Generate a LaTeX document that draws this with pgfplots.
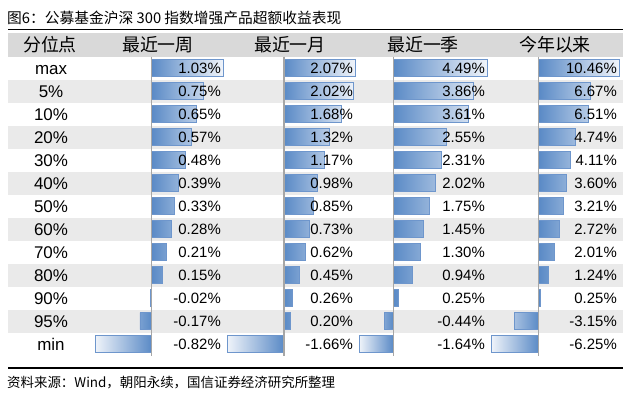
\documentclass[border=0pt]{standalone}
\usepackage{pgfplots}
\pgfplotsset{compat=1.18}
\usepackage{pgfplotstable}
\usepackage{fontspec}
\setmainfont{Liberation Sans}
\newfontfamily\cjk{Noto Sans CJK SC}

\definecolor{bardark}{HTML}{5A8AC6}
\definecolor{barlight}{HTML}{F0F4FA}
\definecolor{barline}{HTML}{6E96CC}
\definecolor{hdr}{HTML}{D9D9D9}
\definecolor{band}{HTML}{EAEAEA}
\definecolor{zline}{HTML}{A6A6A6}

\pgfplotstableread{
r w m q y
0 1.03 2.07 4.49 10.46
1 0.75 2.02 3.86 6.67
2 0.65 1.68 3.61 6.51
3 0.57 1.32 2.55 4.74
4 0.48 1.17 2.31 4.11
5 0.39 0.98 2.02 3.60
6 0.33 0.85 1.75 3.21
7 0.28 0.73 1.45 2.72
8 0.21 0.62 1.30 2.01
9 0.15 0.45 0.94 1.24
10 -0.02 0.26 0.25 0.25
11 -0.17 0.20 -0.44 -3.15
12 -0.82 -1.66 -1.64 -6.25
}\data

\pgfplotsset{
  cell/.style={width=128bp, height=299bp, scale only axis, hide axis,
    y dir=reverse, ymin=-0.5, ymax=12.5, clip=false, anchor=north west},
  pos/.style={xbar, bar width=17bp, bar shift=0pt, draw=barline, line width=0.8bp,
    left color=bardark, right color=barlight, restrict x to domain=0:1000},
  neg/.style={xbar, bar width=17bp, bar shift=0pt, draw=barline, line width=0.8bp,
    left color=barlight, right color=bardark, restrict x to domain=-1000:0},
  lab/.style={only marks, mark=none, point meta=explicit,
    nodes near coords={\pgfmathprintnumber[fixed,fixed zerofill,precision=2,assume math mode=true]{\pgfplotspointmeta}\%},
    every node near coord/.append style={anchor=east, xshift=-2bp, inner sep=0pt,
      font=\fontsize{15}{17}\selectfont, text=black}},
}

\begin{document}
\begin{tikzpicture}
\path[use as bounding box] (0,0) rectangle (633bp,-403bp);
\begin{scope}[x=1bp,y=-1bp]
  \fill[white] (0,0) rectangle (633,403);
  % header background
  \fill[hdr] (8,33) rectangle (623,56.5);
  % row bands
  \foreach \i in {1,3,5,7,9,11} {
    \fill[band] (8,{56.5+23*\i}) rectangle (623,{56.5+23*(\i+1)});
  }
  % rules
  \draw[black, line width=1.3bp] (8,29.5) -- (623,29.5);
  \draw[black, line width=1.3bp] (8,368) -- (623,368);
  % title and source
  \node[anchor=west, inner sep=0pt, font=\cjk\fontsize{14.8}{17}\selectfont] at (7,17.5) {图6：公募基金沪深 300 指数增强产品超额收益表现};
  \node[anchor=west, inner sep=0pt, font=\cjk\fontsize{13.5}{15}\selectfont] at (7,383) {资料来源：Wind，朝阳永续，国信证券经济研究所整理};
  % header
  \begin{scope}[every node/.style={inner sep=0pt, font=\cjk\fontsize{18}{20}\selectfont}]
    \node at (50,45) {分位点};
    \node at (158,45) {最近一周};
    \node at (290,45) {最近一月};
    \node at (423,45) {最近一季};
    \node at (555,45) {今年以来};
  \end{scope}
  % row labels
  \begin{scope}[every node/.style={inner sep=0pt, anchor=base, font=\fontsize{17}{19}\selectfont}]
    \foreach \t [count=\k from 0] in {max,5\%,10\%,20\%,30\%,40\%,50\%,60\%,70\%,80\%,90\%,95\%,min} {
      \node at (51,{74.5+23*\k}) {\t};
    }
  \end{scope}
\end{scope}

% column 1
\begin{axis}[cell, at={(95bp,-56.5bp)}, xmin=-0.82, xmax=1.03]
  \addplot[pos] table[x=w, y=r] {\data};
  \addplot[neg] table[x=w, y=r] {\data};
  \draw[zline, line width=1.2bp] (axis cs:0,-0.5) -- (axis cs:0,12.5);
  \addplot[lab] table[x expr=1.03, y=r, meta=w] {\data};
\end{axis}
% column 2
\begin{axis}[cell, at={(227bp,-56.5bp)}, xmin=-1.66, xmax=2.07]
  \addplot[pos] table[x=m, y=r] {\data};
  \addplot[neg] table[x=m, y=r] {\data};
  \draw[zline, line width=1.2bp] (axis cs:0,-0.5) -- (axis cs:0,12.5);
  \addplot[lab] table[x expr=2.07, y=r, meta=m] {\data};
\end{axis}
% column 3
\begin{axis}[cell, at={(359bp,-56.5bp)}, xmin=-1.64, xmax=4.49]
  \addplot[pos] table[x=q, y=r] {\data};
  \addplot[neg] table[x=q, y=r] {\data};
  \draw[zline, line width=1.2bp] (axis cs:0,-0.5) -- (axis cs:0,12.5);
  \addplot[lab] table[x expr=4.49, y=r, meta=q] {\data};
\end{axis}
% column 4
\begin{axis}[cell, at={(491bp,-56.5bp)}, xmin=-6.25, xmax=10.46]
  \addplot[pos] table[x=y, y=r] {\data};
  \addplot[neg] table[x=y, y=r] {\data};
  \draw[zline, line width=1.2bp] (axis cs:0,-0.5) -- (axis cs:0,12.5);
  \addplot[lab] table[x expr=10.46, y=r, meta=y] {\data};
\end{axis}
\end{tikzpicture}
\end{document}
